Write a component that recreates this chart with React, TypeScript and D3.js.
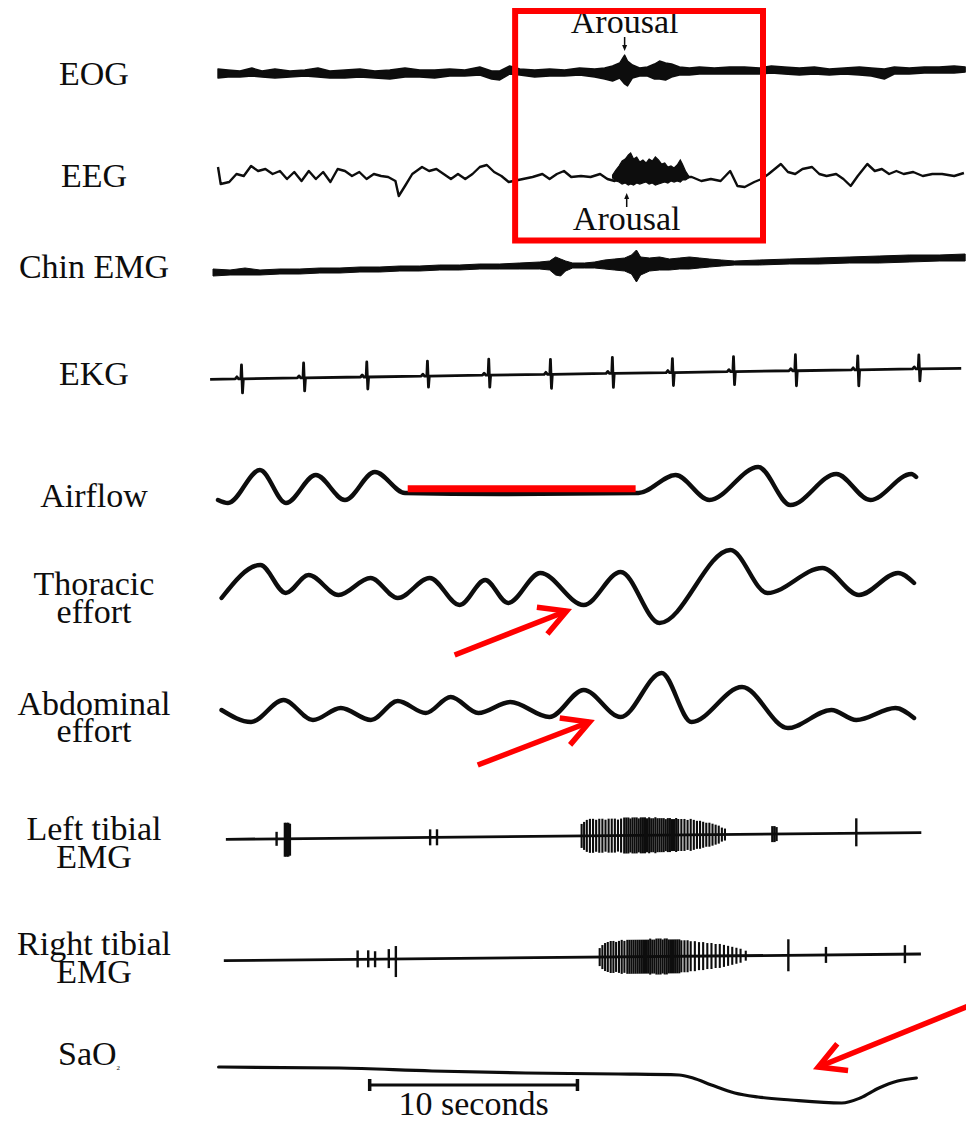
import React, { useEffect } from 'react';
import * as d3 from 'd3';

const WIDTH = 966;
const HEIGHT = 1121;
const FONT = 'Liberation Serif, Tinos, DejaVu Serif, Times New Roman, serif';
const INK = '#0d0d0d';
const RED = '#ff0000';

// time axis of the tracing, in seconds
const T_DOMAIN = [0, 36];

// channel labels (one entry per line of text)
const labelText = [
  ['EOG'], ['EEG'], ['Chin EMG'], ['EKG'], ['Airflow'],
  ['Thoracic', 'effort'], ['Abdominal', 'effort'],
  ['Left tibial', 'EMG'], ['Right tibial', 'EMG'],
];
const labelBaseline = [[85], [187], [278], [385], [507], [595, 623], [715, 742], [840, 868], [955, 983]];

// vertical centre of every channel row
const ROW = {
  eog: 73, eeg: 178, chin: 266, ekg: 374, airflow: 490, thoracic: 590,
  abdominal: 710, leftTib: 836, rightTib: 957, sao: 1080,
};

// ---- EOG: noisy band, time / upper / lower deflection ----
const eogT = [0, 0.48, 1.06, 1.63, 2.12, 2.74, 3.46, 4.18, 4.81, 5.38, 6.11, 6.83, 7.55, 8.27, 9.0, 9.71, 10.43, 11.15, 11.88, 12.6, 13.17, 13.56, 14.04, 14.52, 15.24, 15.96, 16.68, 17.4, 18.13, 18.61, 18.99, 19.33, 19.57, 19.71, 19.95, 20.29, 20.67, 21.01, 21.25, 21.54, 21.83, 22.21, 22.69, 23.17, 23.89, 24.62, 25.34, 26.06, 26.63, 27.26, 27.98, 28.7, 29.42, 30.14, 30.87, 31.44, 32.07, 32.55, 33.27, 33.99, 34.71, 35.43, 35.96];
const eogHi = [4, 3, 2, 5, 2, 4, 2, 3, 5, 2, 3, 4, 2, 3, 5, 3, 3, 4, 3, 6, 2, 2, 7, 4, 3, 4, 3, 5, 4, 5, 7, 10, 18, 12, 8, 5, 6, 9, 12, 10, 9, 6, 5, 6, 5, 6, 6, 5, 7, 6, 5, 6, 4, 5, 6, 5, 4, 6, 5, 6, 6, 7, 6];
const eogLo = [-5, -4, -4, -3, -4, -5, -4, -3, -4, -5, -5, -4, -5, -6, -4, -4, -5, -3, -3, -2, -6, -7, -1, -2, -4, -3, -3, -2, -4, -6, -8, -5, -11, -13, -5, -3, -3, -6, -6, -7, -4, -2, -2, -1, -1, -1, -1, -1, 0, -1, -2, -1, -2, -1, -2, -3, -6, -1, -1, 0, 0, 0, 1];

// ---- EEG: thin trace plus arousal burst ----
const eegT = [0.0, 0.13, 0.54, 0.89, 1.24, 1.59, 1.93, 2.28, 2.63, 2.98, 3.32, 3.67, 4.02, 4.37, 4.71, 5.06, 5.41, 5.76, 6.11, 6.45, 6.8, 7.15, 7.5, 7.85, 8.19, 8.54, 8.7, 9.0, 9.35, 9.82, 10.16, 10.51, 10.86, 11.21, 11.55, 11.9, 12.25, 12.6, 12.94, 13.29, 13.64, 13.99, 14.22, 14.68, 15.14, 15.61, 15.96, 16.31, 16.65, 17.0, 17.47, 17.93, 18.39, 18.74, 19.09, 19.5, 20.0, 20.5, 21.0, 21.5, 22.0, 22.55, 22.8, 23.26, 23.72, 24.19, 24.65, 25.0, 25.35, 25.81, 26.16, 26.5, 27.09, 27.43, 27.78, 28.13, 28.59, 28.94, 29.29, 29.75, 30.1, 30.45, 30.79, 31.25, 31.61, 31.95, 32.3, 32.65, 33.0, 33.46, 33.92, 34.38, 34.85, 35.43, 35.9];
const eegV = [11, -6, -4, 4, 2, 12, 7, 9, 4, 7, -1, 6, -3, 7, -1, 6, -4, 9, 7, 2, 6, -1, 4, 2, 1, -3, -18, -8, 4, 11, 7, 9, 4, -1, 4, -1, 4, 11, 13, 6, 2, -4, -3, -1, 1, 4, -1, 4, 7, 1, 2, 1, 4, -1, -3, 2, 5, 3, 4, 2, 3, 1, 1, -3, -1, -3, 7, -8, -9, -4, -1, 4, 14, 6, 4, 9, 11, 4, 2, 4, -1, -8, 2, 14, 7, 9, 4, 7, 4, 6, 2, 4, 4, 2, 5];
const eegBurstT = [18.99, 19.15, 19.3, 19.45, 19.6, 19.75, 19.86, 20.0, 20.15, 20.3, 20.45, 20.6, 20.75, 20.9, 21.05, 21.2, 21.35, 21.5, 21.65, 21.8, 21.95, 22.1, 22.25, 22.35, 22.5, 22.65];
const eegBurstHi = [3, 8, 12, 17, 19, 23, 25, 19, 21, 16, 18, 15, 19, 17, 21, 18, 14, 15, 11, 12, 10, 13, 18, 14, 7, 2];
const eegBurstLo = [0, -3, -4, -6, -5, -7, -6, -7, -5, -6, -5, -4, -6, -5, -7, -6, -5, -4, -5, -3, -4, -3, -4, -2, -2, 0];

// ---- Chin EMG: band envelope ----
const chinT = [-0.24, 0.58, 1.3, 2.02, 2.98, 3.94, 4.9, 5.87, 6.83, 7.79, 8.75, 9.71, 10.67, 11.63, 12.6, 13.56, 14.52, 15.48, 15.96, 16.25, 16.49, 16.73, 17.07, 17.64, 18.13, 18.61, 19.09, 19.57, 19.9, 20.14, 20.34, 20.77, 21.25, 21.73, 22.21, 22.69, 23.17, 23.65, 24.23, 24.86, 26.06, 27.5, 28.94, 30.38, 31.83, 33.27, 34.71, 35.96];
const chinHi = [-3, -4, -2, -4, -3, -3, -2, -2, -1, -1, 0, 0, 1, 1, 2, 2, 3, 4, 5, 9, 7, 5, 3, 3, 4, 6, 7, 8, 11, 16, 9, 8, 9, 7, 8, 9, 8, 7, 6, 5, 6, 7, 8, 9, 10, 11, 11, 12];
const chinLo = [-10, -9, -9, -9, -8, -8, -7, -7, -6, -6, -5, -5, -4, -4, -3, -3, -3, -3, -4, -9, -10, -5, -2, -2, -2, -3, -4, -5, -8, -16, -9, -5, -4, -4, -3, -3, -2, -1, 0, 1, 1, 2, 2, 3, 3, 4, 5, 5];

// ---- EKG: beat times, R height, S depth, baseline drift ----
const ekgBeatT = [1.13, 4.12, 7.16, 10.08, 13.03, 16.0, 18.98, 21.87, 24.81, 27.79, 30.79, 33.73];
const ekgR = [14, 15, 15, 15, 16, 15, 16, 14, 15, 16, 14, 14];
const ekgS = [14, 13, 12, 11, 12, 14, 14, 13, 13, 15, 16, 12];
const ekgDriftT = [-0.38, 35.77];
const ekgDriftV = [-5.3, 5.7];

// ---- respiratory channels ----
const airflowT = [0.0, 0.48, 2.02, 3.27, 4.71, 6.11, 7.55, 9.0, 13.56, 20.24, 22.02, 23.65, 26.0, 27.55, 29.76, 31.39, 33.37, 33.6];
const airflowV = [-10, -13, 20, -13, 15, -10, 18, -3, -4, -3, 15, -10, 23, -15, 16, -10, 16, 13];
const thoracicT = [0.17, 2.04, 3.26, 4.36, 5.8, 7.34, 8.65, 10.19, 11.63, 12.86, 13.96, 15.51, 17.6, 19.38, 21.25, 24.66, 26.44, 29.09, 30.85, 32.73, 33.5];
const thoracicV = [-8, 25, -3, 15, -5, 12, -8, 12, -15, 10, -13, 17, -15, 18, -33, 40, -3, 22, -5, 17, 7];
const abdominalT = [0.17, 1.59, 3.15, 4.57, 5.91, 7.36, 8.65, 10.0, 11.2, 12.53, 14.07, 15.95, 17.6, 19.38, 21.35, 22.79, 25.22, 27.43, 29.52, 30.72, 32.6, 33.5];
const abdominalV = [0, -12, 10, -10, 2, -10, 9, -3, 13, -3, 8, -7, 20, -7, 37, -12, 23, -18, 0, -10, 2, -8];

// ---- tibial EMG: baseline, isolated discharges, burst ----
const leftTibBaseT = [0.38, 33.85];
const leftTibBaseV = [-3.3, 3.3];
const leftTibSpikeT = [2.82, 3.22, 3.3, 3.38, 3.46, 10.21, 10.54, 26.68, 26.78, 26.88, 30.72];
const leftTibSpikeUp = [7, 16, 16, 16, 15, 8, 8, 8, 8, 7, 15];
const leftTibSpikeDown = [7, 18, 18, 18, 17, 8, 8, 8, 8, 7, 13];
const leftTibBurstT = [17.5, 17.62, 17.75, 17.9, 18.05, 18.2, 18.35, 18.5, 18.65, 18.8, 18.95, 19.1, 19.25, 19.4, 19.55, 19.65, 19.75, 19.85, 19.95, 20.05, 20.15, 20.25, 20.35, 20.45, 20.55, 20.65, 20.75, 20.85, 20.95, 21.05, 21.15, 21.25, 21.35, 21.45, 21.55, 21.65, 21.75, 21.85, 21.95, 22.05, 22.15, 22.3, 22.45, 22.6, 22.75, 22.9, 23.05, 23.2, 23.35, 23.5, 23.65, 23.8, 23.95, 24.1, 24.25, 24.4];
const leftTibBurstAmp = [12, 14, 16, 17, 17, 16, 17, 17, 16, 17, 17, 17, 16, 17, 18, 18, 18, 17, 18, 18, 18, 17, 18, 18, 18, 17, 18, 17, 17, 18, 17, 17, 17, 17, 16, 17, 17, 16, 16, 17, 16, 16, 16, 15, 16, 15, 14, 14, 13, 12, 12, 11, 10, 9, 7, 6];

const rightTibBaseT = [0.28, 33.83];
const rightTibBaseV = [-3.7, 3];
const rightTibSpikeT = [6.72, 7.23, 7.56, 8.22, 8.56, 27.45, 29.26, 33.06];
const rightTibSpikeUp = [9, 9, 8, 10, 13, 16, 8, 9];
const rightTibSpikeDown = [8, 8, 8, 9, 18, 16, 8, 9];
const rightTibBurstT = [18.37, 18.5, 18.63, 18.76, 18.9, 19.03, 19.16, 19.3, 19.43, 19.56, 19.7, 19.8, 19.9, 20.0, 20.1, 20.2, 20.3, 20.4, 20.5, 20.6, 20.7, 20.8, 20.9, 21.0, 21.1, 21.2, 21.3, 21.4, 21.5, 21.6, 21.7, 21.8, 21.9, 22.0, 22.1, 22.2, 22.3, 22.45, 22.6, 22.75, 22.95, 23.15, 23.35, 23.55, 23.75, 23.95, 24.15, 24.35, 24.55, 24.75, 24.95, 25.15, 25.4];
const rightTibBurstAmp = [9, 12, 14, 15, 16, 16, 15, 16, 17, 16, 17, 17, 17, 17, 17, 17, 17, 17, 17, 17, 17, 18, 17, 17, 18, 18, 18, 17, 18, 18, 17, 17, 17, 17, 17, 17, 16, 16, 16, 15, 15, 14, 14, 13, 13, 12, 12, 11, 10, 9, 8, 7, 5];

// ---- SaO2 ----
const saoT = [0.03, 5.84, 10.3, 14.8, 19.28, 22.19, 22.86, 23.75, 24.87, 25.99, 27.56, 30.02, 30.91, 31.81, 32.71, 33.61];
const saoV = [13, 12, 9, 7, 6, 5, 2, -5, -13, -17, -20, -23, -18, -8, -1, 2];

// ---- annotations ----
const scaleBarStart = 7.3; // s
const scaleBarLength = 10; // s
const arousalT = [19.57, 19.67];
const arousalBoxT = [14.3, 26.23];
const apneaT = [9.13, 20.1];
// red arrows: tail time, tail y, tip time, tip y
const redArrows: [number, number, number, number][] = [
  [11.39, 655, 16.78, 611],
  [12.5, 765, 17.88, 722],
  [36.6, 1002, 28.89, 1067],
];

type P2 = [number, number];
type P3 = [number, number, number];

export default function App() {
  useEffect(() => {
    document.body.style.margin = '0';
  }, []);

  const x = d3.scaleLinear().domain(T_DOMAIN).range([218, 966]);
  const row = (c: number) => d3.scaleLinear().domain([-50, 50]).range([c + 50, c - 50]);

  const smooth = (y: d3.ScaleLinear<number, number>) =>
    d3.line<P2>().x(d => x(d[0])).y(d => y(d[1])).curve(d3.curveMonotoneX);
  const jagged = (y: d3.ScaleLinear<number, number>) =>
    d3.line<P2>().x(d => x(d[0])).y(d => y(d[1]));
  const band = (y: d3.ScaleLinear<number, number>) =>
    d3.area<P3>().x(d => x(d[0])).y0(d => y(d[2])).y1(d => y(d[1]));

  const yEog = row(ROW.eog);
  const yEeg = row(ROW.eeg);
  const yChin = row(ROW.chin);
  const yEkg = row(ROW.ekg);
  const yAir = row(ROW.airflow);
  const yTho = row(ROW.thoracic);
  const yAbd = row(ROW.abdominal);
  const ySao = row(ROW.sao);

  // EKG: each beat drawn as a small P-QRS glyph on the drifting baseline
  const ekgBase = d3.scaleLinear().domain(ekgDriftT).range(ekgDriftV);
  const ekgPts: P2[] = [[ekgDriftT[0], ekgDriftV[0]]];
  ekgBeatT.forEach((tb, i) => {
    const b = ekgBase(tb);
    const glyph: P2[] = [[-0.3, 0], [-0.22, 2], [-0.14, 0], [-0.03, 0], [0, ekgR[i]], [0.05, -ekgS[i]], [0.09, 0]];
    glyph.forEach(([dt, v]) => ekgPts.push([tb + dt, b + v]));
  });
  ekgPts.push([ekgDriftT[1], ekgDriftV[1]]);

  const tibial = (
    key: string, c: number, baseT: number[], baseV: number[],
    spT: number[], spUp: number[], spDn: number[], bT: number[], bAmp: number[],
  ) => {
    const y = row(c);
    const base = d3.scaleLinear().domain(baseT).range(baseV);
    return (
      <g key={key} stroke={INK}>
        <line x1={x(baseT[0])} y1={y(baseV[0])} x2={x(baseT[1])} y2={y(baseV[1])} strokeWidth={2.8} />
        {spT.map((t, i) => (
          <line key={'s' + i} x1={x(t)} x2={x(t)} y1={y(base(t) + spUp[i])} y2={y(base(t) - spDn[i])} strokeWidth={2.4} />
        ))}
        {bT.map((t, i) => (
          <line key={'b' + i} x1={x(t)} x2={x(t)} y1={y(base(t) + bAmp[i])} y2={y(base(t) - bAmp[i])} strokeWidth={2.1} />
        ))}
      </g>
    );
  };

  const arrowHead = (tx: number, ty: number, tipX: number, tipY: number, len: number, half: number) => {
    const back = Math.atan2(ty - tipY, tx - tipX);
    const w1: P2 = [tipX + len * Math.cos(back - half), tipY + len * Math.sin(back - half)];
    const w2: P2 = [tipX + len * Math.cos(back + half), tipY + len * Math.sin(back + half)];
    return `M${w1[0]},${w1[1]}L${tipX},${tipY}L${w2[0]},${w2[1]}`;
  };

  const textProps = { fontFamily: FONT, fontSize: 34, fill: INK };

  return (
    <svg width={WIDTH} height={HEIGHT} style={{ display: 'block', background: '#fff' }}>
      <rect width={WIDTH} height={HEIGHT} fill="#fff" />

      {/* channel labels */}
      {labelText.map((lines, i) => (
        <g key={'lab' + i}>
          {lines.map((s, j) => (
            <text key={j} x={94} y={labelBaseline[i][j]} textAnchor="middle" {...textProps}>{s}</text>
          ))}
        </g>
      ))}
      <text x={58} y={1065} {...textProps}>
        SaO<tspan fontSize={7} dy={5}>2</tspan>
      </text>

      {/* EOG */}
      <path d={band(yEog)(d3.zip(eogT, eogHi, eogLo) as P3[]) || ''} fill={INK} stroke={INK} strokeWidth={1.4} strokeLinejoin="round" />

      {/* EEG */}
      <path d={jagged(yEeg)(d3.zip(eegT, eegV) as P2[]) || ''} fill="none" stroke={INK} strokeWidth={2.4} strokeLinejoin="round" />
      <path d={band(yEeg)(d3.zip(eegBurstT, eegBurstHi, eegBurstLo) as P3[]) || ''} fill={INK} stroke={INK} strokeWidth={1.2} />

      {/* Chin EMG */}
      <path d={band(yChin)(d3.zip(chinT, chinHi, chinLo) as P3[]) || ''} fill={INK} stroke={INK} strokeWidth={1} />

      {/* EKG */}
      <path d={jagged(yEkg)(ekgPts) || ''} fill="none" stroke={INK} strokeWidth={2.8} strokeLinejoin="round" />

      {/* respiration */}
      <path d={smooth(yAir)(d3.zip(airflowT, airflowV) as P2[]) || ''} fill="none" stroke={INK} strokeWidth={4.4} strokeLinecap="round" />
      <path d={smooth(yTho)(d3.zip(thoracicT, thoracicV) as P2[]) || ''} fill="none" stroke={INK} strokeWidth={4.4} strokeLinecap="round" />
      <path d={smooth(yAbd)(d3.zip(abdominalT, abdominalV) as P2[]) || ''} fill="none" stroke={INK} strokeWidth={4.4} strokeLinecap="round" />

      {/* leg EMG */}
      {tibial('lt', ROW.leftTib, leftTibBaseT, leftTibBaseV, leftTibSpikeT, leftTibSpikeUp, leftTibSpikeDown, leftTibBurstT, leftTibBurstAmp)}
      {tibial('rt', ROW.rightTib, rightTibBaseT, rightTibBaseV, rightTibSpikeT, rightTibSpikeUp, rightTibSpikeDown, rightTibBurstT, rightTibBurstAmp)}

      {/* SaO2 */}
      <path d={smooth(ySao)(d3.zip(saoT, saoV) as P2[]) || ''} fill="none" stroke={INK} strokeWidth={3.2} strokeLinecap="round" />

      {/* 10 second scale bar */}
      <g stroke={INK}>
        <line x1={x(scaleBarStart)} x2={x(scaleBarStart + scaleBarLength)} y1={1085} y2={1085} strokeWidth={3} />
        <line x1={x(scaleBarStart)} x2={x(scaleBarStart)} y1={1079} y2={1091} strokeWidth={3.5} />
        <line x1={x(scaleBarStart + scaleBarLength)} x2={x(scaleBarStart + scaleBarLength)} y1={1079} y2={1091} strokeWidth={3.5} />
      </g>
      <text x={x(scaleBarStart + scaleBarLength / 2)} y={1115} textAnchor="middle" {...textProps}>10 seconds</text>

      {/* arousal markers */}
      <text x={x(arousalT[0])} y={33} textAnchor="middle" {...textProps}>Arousal</text>
      <line x1={x(arousalT[0])} x2={x(arousalT[0])} y1={37} y2={46} stroke={INK} strokeWidth={1.5} />
      <path d={`M${x(arousalT[0]) - 2.5},${45}L${x(arousalT[0]) + 2.5},${45}L${x(arousalT[0])},${51}Z`} fill={INK} />
      <line x1={x(arousalT[1])} x2={x(arousalT[1])} y1={207} y2={198} stroke={INK} strokeWidth={1.5} />
      <path d={`M${x(arousalT[1]) - 2.5},${199}L${x(arousalT[1]) + 2.5},${199}L${x(arousalT[1])},${193}Z`} fill={INK} />
      <text x={x(arousalT[1])} y={230} textAnchor="middle" {...textProps}>Arousal</text>

      {/* red annotations */}
      <rect x={x(arousalBoxT[0])} y={11} width={x(arousalBoxT[1]) - x(arousalBoxT[0])} height={229.5} fill="none" stroke={RED} strokeWidth={6} />
      <line x1={x(apneaT[0])} x2={x(apneaT[1])} y1={488.7} y2={488.7} stroke={RED} strokeWidth={7} />
      {redArrows.map(([t0, y0, t1, y1], i) => (
        <g key={'ar' + i} stroke={RED} strokeWidth={5.5} fill="none">
          <line x1={x(t0)} y1={y0} x2={x(t1)} y2={y1} />
          <path d={arrowHead(x(t0), y0, x(t1), y1, 30, 0.5)} strokeLinejoin="miter" />
        </g>
      ))}
    </svg>
  );
}
